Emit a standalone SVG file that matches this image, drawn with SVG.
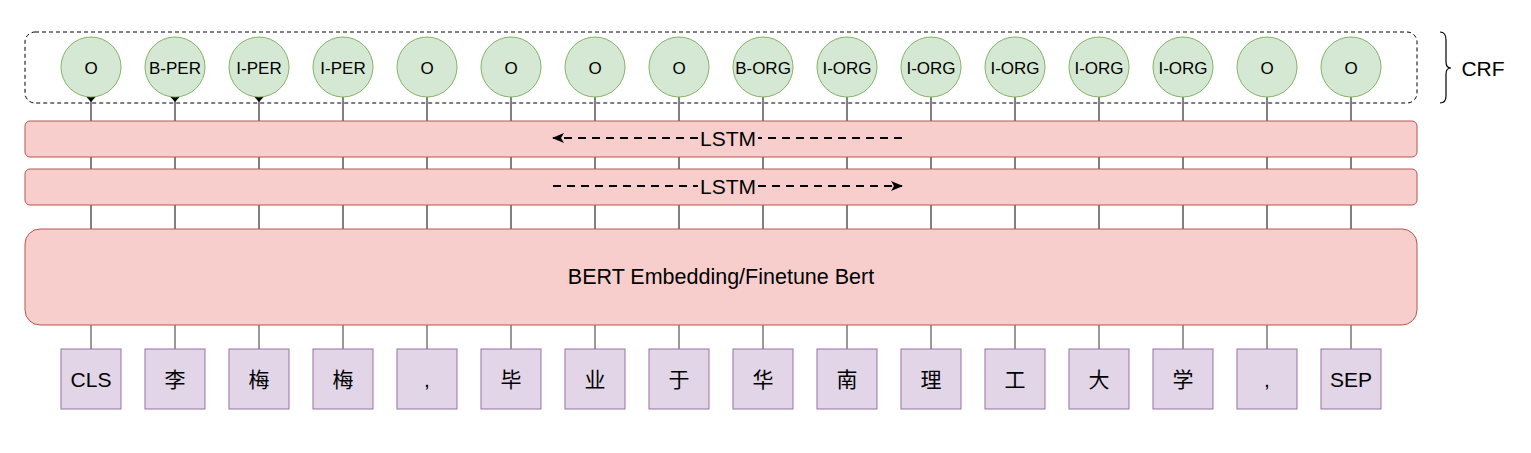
<svg xmlns="http://www.w3.org/2000/svg" width="1531" height="453" viewBox="0 0 1531 453">
<style>
.tag{fill:#d5e8d4;stroke:#82b366;stroke-width:1}
.layer{fill:#f8cecc;stroke:#b85450;stroke-width:1}
.tok{fill:#e1d5e7;stroke:#9673a6;stroke-width:1}
.t{font-family:"Liberation Sans",Arial,"Noto Sans CJK SC",sans-serif;fill:#000;text-anchor:middle;dominant-baseline:central}
.ts{font-size:17px}
.tl{font-size:21px}
.tb{font-size:21.5px}
.up{stroke:#000;stroke-width:1}
.dn{stroke:#555;stroke-width:1.2}
.dash{stroke:#000;stroke-width:2;stroke-dasharray:8 6;fill:none}
</style>
<defs>
<marker id="ah" markerWidth="12" markerHeight="10" refX="11" refY="5" orient="auto" markerUnits="userSpaceOnUse">
<path d="M12,5 L0,0 L3,5 L0,10 Z" fill="#000"/>
</marker>
</defs>
<g id="connectors">
<g class="up">
<line x1="91" y1="97" x2="91" y2="229"/><line x1="175" y1="97" x2="175" y2="229"/><line x1="259" y1="97" x2="259" y2="229"/><line x1="343" y1="97" x2="343" y2="229"/>
<line x1="427" y1="97" x2="427" y2="229"/><line x1="511" y1="97" x2="511" y2="229"/><line x1="595" y1="97" x2="595" y2="229"/><line x1="679" y1="97" x2="679" y2="229"/>
<line x1="763" y1="97" x2="763" y2="229"/><line x1="847" y1="97" x2="847" y2="229"/><line x1="931" y1="97" x2="931" y2="229"/><line x1="1015" y1="97" x2="1015" y2="229"/>
<line x1="1099" y1="97" x2="1099" y2="229"/><line x1="1183" y1="97" x2="1183" y2="229"/><line x1="1267" y1="97" x2="1267" y2="229"/><line x1="1351" y1="97" x2="1351" y2="229"/>
</g>
<g class="dn">
<line x1="91" y1="325" x2="91" y2="349"/><line x1="175" y1="325" x2="175" y2="349"/><line x1="259" y1="325" x2="259" y2="349"/><line x1="343" y1="325" x2="343" y2="349"/>
<line x1="427" y1="325" x2="427" y2="349"/><line x1="511" y1="325" x2="511" y2="349"/><line x1="595" y1="325" x2="595" y2="349"/><line x1="679" y1="325" x2="679" y2="349"/>
<line x1="763" y1="325" x2="763" y2="349"/><line x1="847" y1="325" x2="847" y2="349"/><line x1="931" y1="325" x2="931" y2="349"/><line x1="1015" y1="325" x2="1015" y2="349"/>
<line x1="1099" y1="325" x2="1099" y2="349"/><line x1="1183" y1="325" x2="1183" y2="349"/><line x1="1267" y1="325" x2="1267" y2="349"/><line x1="1351" y1="325" x2="1351" y2="349"/>
</g>
<g fill="#000">
<path d="M86.5,97 L95.5,97 L91,102 Z"/>
<path d="M170.5,97 L179.5,97 L175,102 Z"/>
<path d="M254.5,97 L263.5,97 L259,102 Z"/>
</g>
</g>
<g id="crf-box">
<rect x="25" y="32" width="1392" height="71" rx="10" fill="none" stroke="#000" stroke-width="1" stroke-dasharray="4 3"/>
<path d="M1440,32 Q1446,32 1446,40 L1446,62 Q1446,68 1451,68 Q1446,68 1446,74 L1446,96 Q1446,103 1440,103" fill="none" stroke="#000" stroke-width="1.2"/>
<text class="t tl" x="1483" y="68">CRF</text>
</g>
<g id="lstm-back">
<rect class="layer" x="25" y="121" width="1392" height="36" rx="5"/>
<line class="dash" x1="902" y1="138" x2="758" y2="138"/>
<line class="dash" x1="698" y1="138" x2="553" y2="138" marker-end="url(#ah)"/>
<text class="t tl" x="728" y="138">LSTM</text>
</g>
<g id="lstm-fwd">
<rect class="layer" x="25" y="169" width="1392" height="36" rx="5"/>
<line class="dash" x1="553" y1="186" x2="698" y2="186"/>
<line class="dash" x1="758" y1="186" x2="902" y2="186" marker-end="url(#ah)"/>
<text class="t tl" x="728" y="186">LSTM</text>
</g>
<g id="bert">
<rect class="layer" x="25" y="229" width="1392" height="96" rx="15"/>
<text class="t tb" x="721" y="277">BERT Embedding/Finetune Bert</text>
</g>
<g id="tag-0"><circle class="tag" cx="91" cy="67" r="30"/><text class="t ts" x="91" y="68">O</text></g>
<g id="tag-1"><circle class="tag" cx="175" cy="67" r="30"/><text class="t ts" x="175" y="68">B-PER</text></g>
<g id="tag-2"><circle class="tag" cx="259" cy="67" r="30"/><text class="t ts" x="259" y="68">I-PER</text></g>
<g id="tag-3"><circle class="tag" cx="343" cy="67" r="30"/><text class="t ts" x="343" y="68">I-PER</text></g>
<g id="tag-4"><circle class="tag" cx="427" cy="67" r="30"/><text class="t ts" x="427" y="68">O</text></g>
<g id="tag-5"><circle class="tag" cx="511" cy="67" r="30"/><text class="t ts" x="511" y="68">O</text></g>
<g id="tag-6"><circle class="tag" cx="595" cy="67" r="30"/><text class="t ts" x="595" y="68">O</text></g>
<g id="tag-7"><circle class="tag" cx="679" cy="67" r="30"/><text class="t ts" x="679" y="68">O</text></g>
<g id="tag-8"><circle class="tag" cx="763" cy="67" r="30"/><text class="t ts" x="763" y="68">B-ORG</text></g>
<g id="tag-9"><circle class="tag" cx="847" cy="67" r="30"/><text class="t ts" x="847" y="68">I-ORG</text></g>
<g id="tag-10"><circle class="tag" cx="931" cy="67" r="30"/><text class="t ts" x="931" y="68">I-ORG</text></g>
<g id="tag-11"><circle class="tag" cx="1015" cy="67" r="30"/><text class="t ts" x="1015" y="68">I-ORG</text></g>
<g id="tag-12"><circle class="tag" cx="1099" cy="67" r="30"/><text class="t ts" x="1099" y="68">I-ORG</text></g>
<g id="tag-13"><circle class="tag" cx="1183" cy="67" r="30"/><text class="t ts" x="1183" y="68">I-ORG</text></g>
<g id="tag-14"><circle class="tag" cx="1267" cy="67" r="30"/><text class="t ts" x="1267" y="68">O</text></g>
<g id="tag-15"><circle class="tag" cx="1351" cy="67" r="30"/><text class="t ts" x="1351" y="68">O</text></g>
<g id="tok-0"><rect class="tok" x="61" y="349" width="60" height="60"/><text class="t tl" x="91" y="379">CLS</text></g>
<g id="tok-1"><rect class="tok" x="145" y="349" width="60" height="60"/><text class="t tl" x="175" y="379">李</text></g>
<g id="tok-2"><rect class="tok" x="229" y="349" width="60" height="60"/><text class="t tl" x="259" y="379">梅</text></g>
<g id="tok-3"><rect class="tok" x="313" y="349" width="60" height="60"/><text class="t tl" x="343" y="379">梅</text></g>
<g id="tok-4"><rect class="tok" x="397" y="349" width="60" height="60"/><text class="t tl" x="427" y="379">,</text></g>
<g id="tok-5"><rect class="tok" x="481" y="349" width="60" height="60"/><text class="t tl" x="511" y="379">毕</text></g>
<g id="tok-6"><rect class="tok" x="565" y="349" width="60" height="60"/><text class="t tl" x="595" y="379">业</text></g>
<g id="tok-7"><rect class="tok" x="649" y="349" width="60" height="60"/><text class="t tl" x="679" y="379">于</text></g>
<g id="tok-8"><rect class="tok" x="733" y="349" width="60" height="60"/><text class="t tl" x="763" y="379">华</text></g>
<g id="tok-9"><rect class="tok" x="817" y="349" width="60" height="60"/><text class="t tl" x="847" y="379">南</text></g>
<g id="tok-10"><rect class="tok" x="901" y="349" width="60" height="60"/><text class="t tl" x="931" y="379">理</text></g>
<g id="tok-11"><rect class="tok" x="985" y="349" width="60" height="60"/><text class="t tl" x="1015" y="379">工</text></g>
<g id="tok-12"><rect class="tok" x="1069" y="349" width="60" height="60"/><text class="t tl" x="1099" y="379">大</text></g>
<g id="tok-13"><rect class="tok" x="1153" y="349" width="60" height="60"/><text class="t tl" x="1183" y="379">学</text></g>
<g id="tok-14"><rect class="tok" x="1237" y="349" width="60" height="60"/><text class="t tl" x="1267" y="379">,</text></g>
<g id="tok-15"><rect class="tok" x="1321" y="349" width="60" height="60"/><text class="t tl" x="1351" y="379">SEP</text></g>
</svg>
